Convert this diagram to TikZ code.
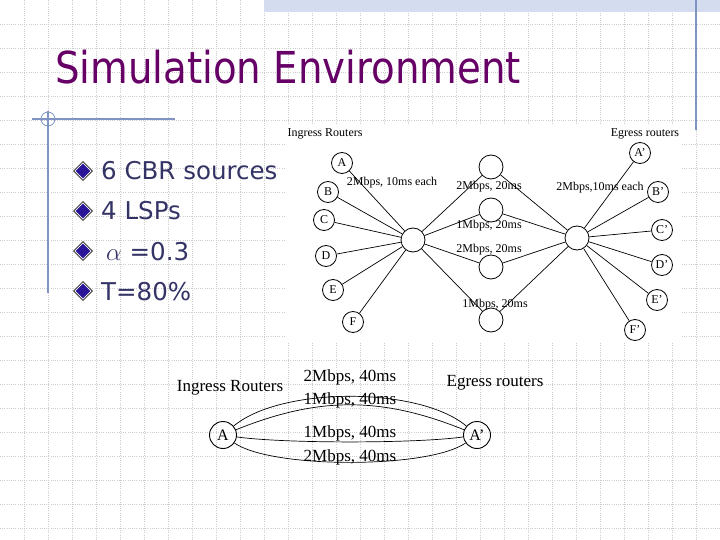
\documentclass[tikz,border=0pt]{standalone}
\usepackage{fontspec}
\setmainfont{Liberation Serif}
\newfontfamily\slidefont{DejaVu Sans}
\usepackage{graphicx}
\usetikzlibrary{shapes.geometric,positioning}
\definecolor{titlepurple}{HTML}{660066}
\definecolor{bodytext}{HTML}{333366}
\definecolor{bulletblue}{HTML}{2A1598}
\definecolor{frameblue}{HTML}{7F93C4}
\definecolor{bandblue}{HTML}{D3DDEF}
\definecolor{gridgray}{HTML}{CDCDCD}

\begin{document}
\begin{tikzpicture}[x=1pt, y=-1pt,
  gridln/.style={gridgray, line width=0.7pt, dash pattern=on 1pt off 1.2pt},
  frameln/.style={frameblue, line width=1.1pt},
  ttl/.style={anchor=base west, inner sep=0, text=titlepurple},
  itm/.style={anchor=base west, inner sep=0, text=bodytext,
              font=\slidefont\fontsize{24.5}{28}\selectfont},
  bulout/.style={diamond, draw=black!90, fill=white, line width=0.8pt,
                 minimum size=19, inner sep=0},
  bulin/.style={diamond, fill=bulletblue, minimum size=15, inner sep=0},
  rtr/.style={circle, draw, line width=0.8pt, minimum size=21, inner sep=0,
              font=\fontsize{12}{12}\selectfont},
  hub/.style={circle, draw, line width=0.8pt, minimum size=24, inner sep=0},
  lnk/.style={line width=0.7pt},
  netlbl/.style={font=\fontsize{12}{14}\selectfont, inner sep=0},
  bigrtr/.style={circle, draw, line width=0.9pt, minimum size=27, inner sep=0,
                 font=\fontsize{16}{16}\selectfont},
  biglbl/.style={font=\fontsize{17}{19}\selectfont, inner sep=0}
]
\useasboundingbox (0,0) rectangle (720,540);
\fill[white] (0,0) rectangle (720,540);

%--- Slide background ---
\foreach \gx in {24,48,...,696} \draw[gridln] (\gx,0) -- (\gx,540);
\foreach \gy in {24,48,...,528} \draw[gridln] (0,\gy) -- (720,\gy);
\fill[bandblue] (264,0) rectangle (720,12);
\draw[frameln] (696,0) -- (696,130);
\draw[frameln] (32,119) -- (175,119);
\draw[frameln] (48,111) -- (48,293);
\draw[frameln, line width=0.8pt] (48,119) circle (7);

%--- Title ---
\node[ttl] (title) at (55,84)
  {\scalebox{0.88}[1]{\slidefont\fontsize{44}{52}\selectfont Simulation Environment}};

%--- Bullets ---
\foreach \by in {171,211,251,291} {
  \node[bulout] at (83,\by) {};
  \node[bulin] at (83,\by) {};
}
\node[itm] (t1) at (101,180) {6 CBR sources};
\node[itm] (t2) at (101,220) {4 LSPs};
\node[itm] (t3) at (106,260) {{\fontsize{24}{28}\selectfont$\alpha$} =0.3};
\node[itm] (t4) at (101,300) {T=80\%};

%--- Network: six sources ---
\fill[white] (285,124) rectangle (682,342);
\node[netlbl] (ingr) at (325,134) {Ingress Routers};
\node[netlbl] (egr) at (645,134) {Egress routers};

\node[hub] (hl) at (413,240) {};
\node[hub] (hr) at (577,238) {};
\node[hub] (m1) at (491,167) {};
\node[hub] (m2) at (491,210) {};
\node[hub] (m3) at (491,267) {};
\node[hub] (m4) at (491,320) {};

\node[rtr] (a) at (342,163) {A};
\node[rtr] (b) at (328,192) {B};
\node[rtr] (c) at (324,220) {C};
\node[rtr] (d) at (326,256) {D};
\node[rtr] (e) at (333,290) {E};
\node[rtr] (f) at (353,322) {F};

\node[rtr] (ap) at (640,153) {A'};
\node[rtr] (bp) at (658,192) {B'};
\node[rtr] (cp) at (662,230) {C'};
\node[rtr] (dp) at (662,265) {D'};
\node[rtr] (ep) at (657,300) {E'};
\node[rtr] (fp) at (635,330) {F'};

\foreach \n in {a,b,c,d,e,f} \draw[lnk] (hl) -- (\n);
\foreach \n in {ap,bp,cp,dp,ep,fp} \draw[lnk] (hr) -- (\n);
\foreach \n in {m1,m2,m3,m4} {
  \draw[lnk] (hl) -- (\n);
  \draw[lnk] (hr) -- (\n);
}

\node[netlbl] (inlbl) at (392,183) {2Mbps, 10ms each};
\node[netlbl] (outlbl) at (600,188) {2Mbps,10ms each};
\node[netlbl] (l1) at (489,187) {2Mbps, 20ms};
\node[netlbl] (l2) at (489,226) {1Mbps, 20ms};
\node[netlbl] (l3) at (489,250) {2Mbps, 20ms};
\node[netlbl] (l4) at (495,305) {1Mbps, 20ms};

%--- Network: four LSPs ---
\node[biglbl] (ingr2) at (230,388) {Ingress Routers};
\node[biglbl] (egr2) at (495,383) {Egress routers};
\node[bigrtr] (a2) at (223,435) {A};
\node[bigrtr] (ap2) at (477,435) {A'};

\draw[lnk] (a2) to[out=40, in=140, looseness=0.68]
  node[biglbl, midway, yshift=19] {2Mbps, 40ms} (ap2);
\draw[lnk] (a2) to[out=22, in=158, looseness=1]
  node[biglbl, midway, yshift=4] {1Mbps, 40ms} (ap2);
\draw[lnk] (a2) to[out=-8, in=-172, looseness=0.54]
  node[biglbl, midway, yshift=9] {1Mbps, 40ms} (ap2);
\draw[lnk] (a2) to[out=-35, in=-145, looseness=0.5]
  node[biglbl, midway, yshift=5] {2Mbps, 40ms} (ap2);

\end{tikzpicture}
\end{document}
